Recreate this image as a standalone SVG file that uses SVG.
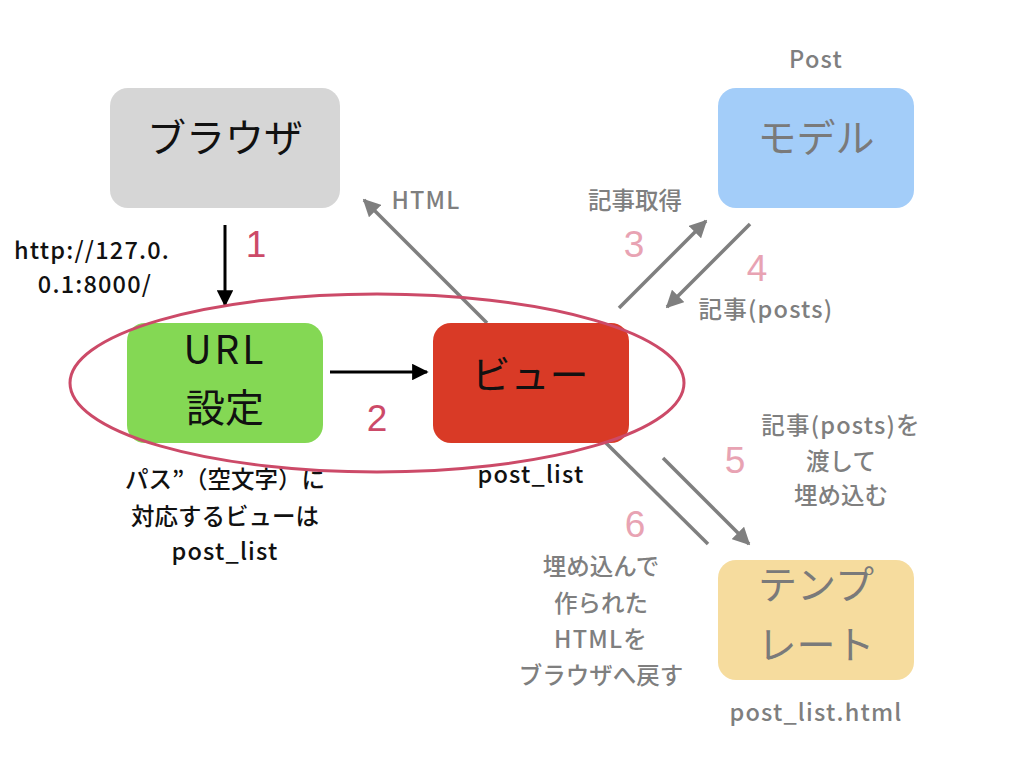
<svg xmlns="http://www.w3.org/2000/svg" width="1024" height="768" viewBox="0 0 1024 768">
<style>
text{font-family:"Noto Sans CJK JP","Liberation Sans",sans-serif;text-anchor:middle}
.node{font-size:39px}
.lbl{font-size:23.5px;font-weight:500;fill:#7f7f7f}
.blk{font-size:23.5px;font-weight:500;fill:#111}
.lt{letter-spacing:1.2px}
.num{font-size:37px;font-family:"Liberation Sans",sans-serif}
.pk{fill:#e8a3b3}
.rd{fill:#cc4a68}
.g{stroke:#7f7f7f;stroke-width:3.5;fill:none}
.k{stroke:#000;stroke-width:3;fill:none}
</style>
<defs>
<marker id="ag" viewBox="0 0 10 10" refX="9" refY="5" markerWidth="5" markerHeight="5" orient="auto" markerUnits="strokeWidth"><path d="M0,0L10,5L0,10z" fill="#7f7f7f"/></marker>
<marker id="ak" viewBox="0 0 10 10" refX="9" refY="5" markerWidth="5.5" markerHeight="5.5" orient="auto" markerUnits="strokeWidth"><path d="M0,0L10,5L0,10z" fill="#000"/></marker>
</defs>
<rect width="1024" height="768" fill="#fff"/>
<g id="connectors">
<line class="g" x1="487" y1="323" x2="364" y2="200" marker-end="url(#ag)"/>
<line class="g" x1="619" y1="308" x2="706" y2="221" marker-end="url(#ag)"/>
<line class="g" x1="750" y1="224" x2="667" y2="307" marker-end="url(#ag)"/>
<line class="g" x1="663" y1="458" x2="749" y2="544" marker-end="url(#ag)"/>
<line class="g" x1="606" y1="443" x2="708" y2="544"/>
<line class="k" x1="225" y1="225" x2="225" y2="305" marker-end="url(#ak)"/>
<line class="k" x1="330" y1="372" x2="427" y2="372" marker-end="url(#ak)"/>
</g>
<g id="browser">
<rect x="110" y="88" width="230" height="120" rx="18" fill="#d6d6d6"/>
<text class="node" x="225" y="152" fill="#111">ブラウザ</text>
</g>
<g id="model">
<text class="lbl lt" x="816" y="68">Post</text>
<rect x="718" y="88" width="196" height="120" rx="18" fill="#a3cdf9"/>
<text class="node" x="816" y="152" fill="#7a7a7a">モデル</text>
</g>
<g id="url">
<rect x="127" y="323" width="196" height="120" rx="18" fill="#84d854"/>
<text class="node" x="225" y="364" fill="#111" letter-spacing="3">URL</text>
<text class="node" x="225" y="422" fill="#111">設定</text>
<text class="blk" x="225" y="488">パス”（空文字）に</text>
<text class="blk" x="225" y="525">対応するビューは</text>
<text class="blk lt" x="225" y="560">post_list</text>
</g>
<g id="view">
<rect x="433" y="323" width="196" height="120" rx="18" fill="#d93a26"/>
<text class="node" x="530" y="389" fill="#111">ビュー</text>
<text class="blk lt" x="531" y="483">post_list</text>
</g>
<g id="template">
<rect x="718" y="560" width="196" height="120" rx="18" fill="#f6dc9e"/>
<text class="node" x="816" y="599" fill="#7a7a7a">テンプ</text>
<text class="node" x="816" y="659" fill="#7a7a7a">レート</text>
<text class="lbl lt" x="816" y="721">post_list.html</text>
</g>
<g id="scope">
<ellipse cx="377" cy="383" rx="307" ry="89" fill="none" stroke="#cc4a68" stroke-width="3"/>
</g>
<g id="labels">
<text class="blk lt" x="92" y="259">http://127.0.</text>
<text class="blk lt" x="95" y="293">0.1:8000/</text>
<text class="num rd" x="256" y="257">1</text>
<text class="num rd" x="377" y="431">2</text>
<text class="lbl lt" x="426" y="209">HTML</text>
<text class="lbl" x="635" y="209">記事取得</text>
<text class="num pk" x="634" y="257">3</text>
<text class="num pk" x="757" y="281">4</text>
<text class="lbl lt" x="766" y="318">記事(posts)</text>
<text class="num pk" x="735" y="473">5</text>
<text class="lbl lt" x="841" y="434">記事(posts)を</text>
<text class="lbl" x="841" y="470">渡して</text>
<text class="lbl" x="841" y="504">埋め込む</text>
<text class="num pk" x="635" y="537">6</text>
<text class="lbl" x="601" y="575">埋め込んで</text>
<text class="lbl" x="601" y="612">作られた</text>
<text class="lbl lt" x="601" y="648">HTMLを</text>
<text class="lbl" x="601" y="684">ブラウザへ戻す</text>
</g>
</svg>
